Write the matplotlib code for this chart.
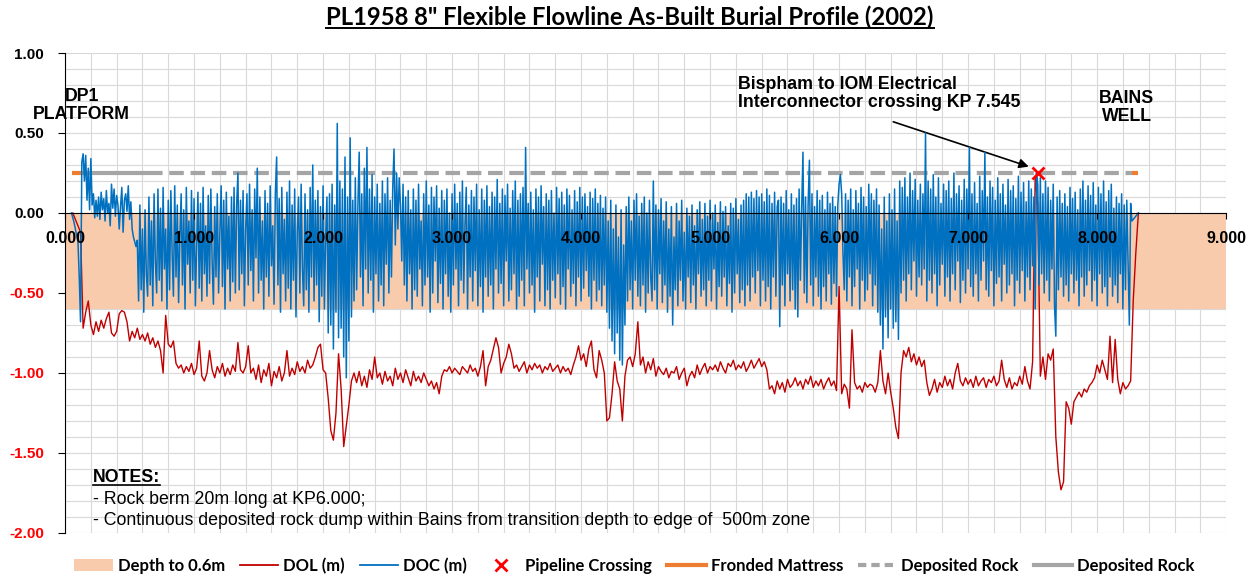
import numpy as np
import matplotlib.pyplot as plt
from matplotlib.lines import Line2D
from matplotlib.patches import Patch

plt.rcParams['font.family'] = ['Liberation Sans', 'DejaVu Sans']

# survey sampling along the route (km)
doc_start_kp, doc_step_kp = 0.05, 0.01
dol_start_kp, dol_step_kp = 0.06, 0.02

# DOC (m) - one row per 0.1 km
doc_m = [
    0.00, -0.03, -0.06, -0.10, -0.14, -0.18, -0.40, -0.68, 0.32, 0.37,
    0.20, 0.36, 0.08, 0.28, 0.02, 0.34, 0.05, 0.12, -0.03, 0.08,
    -0.02, 0.10, -0.04, 0.13, 0.02, 0.09, -0.05, 0.14, 0.00, 0.06,
    -0.08, 0.18, 0.03, 0.15, -0.02, 0.11, 0.05, -0.10, 0.04, 0.16,
    -0.12, 0.08, 0.12, 0.01, 0.17, -0.04, 0.07, -0.10, -0.15, -0.18,
    -0.21, -0.17, -0.55, 0.05, -0.48, -0.10, -0.62, 0.02, -0.38, -0.52,
    0.10, -0.45, -0.05, -0.58, 0.12, -0.30, -0.50, 0.15, -0.42, 0.03,
    -0.55, 0.16, -0.35, -0.10, -0.60, 0.08, -0.48, 0.14, -0.25, -0.52,
    0.17, -0.40, 0.05, -0.56, -0.15, 0.12, -0.45, 0.02, -0.60, 0.16,
    -0.32, -0.05, -0.50, 0.14, -0.42, 0.09, -0.58, -0.20, 0.13, -0.47,
    0.06, -0.55, 0.16, -0.38, -0.08, -0.52, 0.11, -0.44, 0.15, -0.30,
    -0.57, 0.04, -0.40, 0.12, -0.50, -0.12, 0.17, -0.46, 0.08, -0.60,
    0.13, -0.35, -0.02, -0.55, 0.10, -0.43, 0.16, -0.50, 0.05, 0.25,
    -0.48, 0.08, -0.38, 0.14, -0.58, -0.10, 0.12, -0.45, 0.18, -0.36,
    0.02, -0.55, 0.15, -0.28, 0.28, -0.50, 0.10, -0.42, -0.05, -0.60,
    0.14, -0.40, 0.06, -0.52, 0.17, -0.33, -0.08, -0.57, 0.12, 0.35,
    -0.45, 0.09, -0.62, 0.16, -0.38, -0.04, -0.55, 0.13, -0.47, 0.20,
    -0.60, 0.05, -0.42, 0.15, -0.65, -0.12, 0.10, -0.50, 0.18, -0.35,
    -0.58, 0.12, -0.48, 0.02, -0.62, 0.16, -0.40, 0.30, -0.55, 0.08,
    -0.45, 0.14, -0.68, 0.04, -0.52, 0.17, -0.60, -0.15, 0.10, -0.75,
    0.12, -0.70, 0.18, -0.85, 0.05, -0.62, 0.56, -0.78, 0.20, -0.72,
    0.15, -0.90, 0.35, -1.03, 0.10, -0.80, 0.47, -0.65, 0.08, -0.55,
    0.22, -0.48, 0.05, 0.38, -0.40, 0.12, -0.58, 0.28, -0.35, 0.41,
    -0.50, 0.15, -0.42, 0.24, -0.62, 0.10, -0.38, 0.18, -0.55, 0.06,
    -0.45, 0.20, -0.58, 0.12, -0.32, 0.22, -0.50, 0.08, -0.40, 0.16,
    0.40, -0.20, 0.25, -0.10, 0.22, 0.05, -0.30, 0.18, -0.45, 0.10,
    -0.55, 0.14, -0.38, 0.02, -0.60, 0.15, -0.48, 0.08, -0.52, 0.18,
    -0.35, -0.05, -0.58, 0.12, -0.45, 0.20, -0.40, 0.05, -0.62, 0.16,
    -0.50, 0.10, -0.30, 0.17, -0.56, 0.03, -0.44, 0.14, -0.60, 0.08,
    -0.38, 0.15, -0.52, 0.00, -0.62, 0.12, -0.45, 0.18, -0.35, 0.06,
    -0.58, 0.13, -0.42, 0.20, -0.50, -0.08, 0.16, -0.60, 0.05, -0.40,
    0.14, -0.55, 0.10, -0.36, 0.18, -0.58, 0.02, -0.46, 0.15, -0.62,
    0.08, -0.40, 0.17, -0.52, 0.04, -0.45, 0.13, -0.60, 0.10, -0.35,
    0.21, -0.50, 0.06, -0.44, 0.15, -0.58, 0.11, -0.30, 0.18, -0.55,
    0.03, -0.48, 0.14, -0.38, 0.20, -0.60, 0.08, -0.52, 0.12, -0.42,
    0.16, -0.58, 0.41, -0.35, 0.06, -0.50, 0.13, -0.45, 0.02, -0.62,
    0.15, -0.40, 0.10, -0.55, 0.17, -0.32, 0.04, -0.58, 0.12, -0.48,
    0.08, -0.60, 0.14, -0.42, 0.00, -0.53, 0.16, -0.38, 0.09, -0.57,
    0.13, -0.46, 0.05, -0.60, 0.15, -0.35, 0.11, -0.52, 0.02, -0.44,
    0.14, -0.58, 0.07, -0.40, 0.16, -0.55, 0.10, -0.47, 0.12, -0.36,
    0.04, -0.52, 0.13, -0.60, 0.09, -0.42, 0.15, -0.55, 0.06, -0.48,
    0.11, -0.58, 0.03, -0.45, 0.10, -0.62, -0.05, -0.72, 0.08, -0.80,
    -0.10, -0.88, 0.05, -0.75, -0.15, -0.92, 0.02, -0.95, -0.20, -0.70,
    0.04, -0.55, 0.10, -0.48, -0.05, -0.60, 0.08, -0.42, 0.12, -0.52,
    -0.02, -0.58, 0.06, -0.45, 0.10, -0.62, 0.00, -0.50, 0.08, -0.40,
    -0.55, 0.20, -0.48, 0.05, -0.60, 0.02, -0.38, 0.09, -0.56, -0.05,
    -0.45, 0.07, -0.62, -0.10, -0.52, 0.04, -0.70, -0.15, -0.48, 0.06,
    -0.58, -0.05, -0.42, 0.08, -0.55, -0.12, -0.60, 0.03, -0.40, -0.02,
    -0.56, 0.05, -0.45, -0.08, -0.60, 0.02, -0.38, 0.07, -0.52, -0.04,
    -0.48, 0.06, -0.58, -0.02, -0.42, 0.08, -0.55, 0.00, -0.35, 0.05,
    -0.60, -0.06, -0.46, 0.07, -0.52, 0.01, -0.40, 0.04, -0.58, -0.08,
    -0.44, 0.06, -0.62, 0.03, -0.50, 0.09, -0.38, -0.04, -0.56, 0.05,
    -0.48, 0.08, -0.58, 0.12, -0.45, 0.10, -0.55, 0.13, -0.40, 0.09,
    -0.50, 0.14, -0.36, 0.10, -0.58, 0.12, -0.42, 0.07, -0.55, 0.15,
    -0.46, 0.11, -0.60, 0.06, -0.40, 0.13, -0.52, 0.04, 0.08, -0.71,
    0.10, -0.45, 0.06, -0.58, 0.14, -0.38, 0.02, -0.55, 0.12, -0.48,
    0.05, -0.60, 0.09, -0.65, 0.15, -0.42, 0.03, 0.38, -0.50, 0.10,
    -0.56, 0.06, 0.33, -0.45, 0.12, -0.58, 0.04, -0.40, 0.14, -0.52,
    0.08, -0.60, 0.11, -0.46, 0.02, -0.55, 0.13, -0.38, 0.06, -0.57,
    0.10, -0.44, 0.04, -0.52, 0.05, 0.18, 0.24, 0.12, -0.25, -0.48,
    0.12, -0.55, 0.08, -0.40, 0.15, -0.58, 0.02, -0.46, 0.14, -0.35,
    0.06, -0.60, 0.16, -0.42, 0.10, -0.55, 0.04, -0.48, 0.18, -0.38,
    0.12, -0.58, 0.08, -0.45, 0.15, -0.62, 0.05, -0.70, -0.10, -0.85,
    0.10, -0.65, -0.05, -0.78, 0.12, -0.60, 0.02, -0.72, 0.15, -0.68,
    -0.05, -0.79, 0.20, -0.50, 0.16, -0.42, 0.22, -0.55, 0.10, -0.38,
    0.25, -0.48, 0.14, -0.30, 0.21, -0.52, 0.08, -0.40, 0.18, -0.45,
    0.12, -0.35, 0.50, -0.55, 0.20, -0.42, 0.15, -0.50, 0.24, -0.38,
    0.10, -0.58, 0.22, -0.45, 0.06, -0.32, 0.18, -0.52, 0.14, -0.40,
    0.20, -0.55, 0.09, -0.38, 0.25, -0.48, 0.12, -0.30, 0.17, -0.56,
    0.08, -0.42, 0.21, -0.50, 0.15, -0.35, 0.41, -0.46, 0.12, -0.52,
    0.19, -0.38, 0.06, -0.55, 0.23, -0.42, 0.14, -0.30, 0.38, -0.48,
    0.10, -0.52, 0.20, -0.36, 0.16, -0.58, 0.08, -0.44, 0.22, -0.40,
    0.12, -0.55, 0.18, -0.32, 0.05, -0.50, 0.21, -0.45, 0.14, -0.38,
    0.17, -0.58, 0.09, -0.42, 0.23, -0.50, 0.13, -0.36, 0.19, -0.55,
    0.07, -0.40, 0.20, -0.48, 0.15, -0.33, 0.10, -0.60, 0.25, 0.18,
    -0.45, 0.22, -0.38, 0.12, -0.50, 0.20, -0.42, 0.16, -0.55, 0.08,
    -0.35, 0.18, -0.58, -0.77, 0.10, -0.48, 0.14, -0.40, 0.06, -0.52,
    0.12, -0.45, 0.04, -0.55, 0.16, -0.38, 0.09, -0.50, 0.13, -0.42,
    0.02, -0.58, 0.15, -0.40, 0.20, -0.52, 0.08, -0.45, 0.17, -0.36,
    0.11, -0.55, 0.19, -0.42, 0.05, -0.58, 0.16, -0.38, 0.12, -0.50,
    0.20, -0.46, 0.07, -0.58, 0.14, -0.40, 0.18, -0.52, 0.03, -0.45,
    0.10, -0.56, 0.06, -0.38, 0.12, -0.60, 0.05, -0.48, 0.08, -0.30,
    -0.70, 0.06, -0.05, -0.04, -0.03, -0.02, -0.01, 0.00,
]

# DOL (m) - one row per 0.2 km
dol_m = [
    0.00, -0.04, -0.08, -0.12, -0.72, -0.62, -0.55, -0.70, -0.76, -0.68,
    -0.74, -0.67, -0.72, -0.66, -0.62, -0.75, -0.77, -0.74, -0.63, -0.61,
    -0.62, -0.68, -0.80, -0.74, -0.78, -0.72, -0.79, -0.76, -0.80, -0.75,
    -0.82, -0.78, -0.84, -0.80, -0.86, -1.00, -0.64, -0.82, -0.84, -0.80,
    -0.94, -0.97, -0.95, -1.00, -0.96, -0.99, -0.94, -1.01, -0.97, -0.80,
    -1.02, -1.05, -1.00, -0.86, -0.98, -1.03, -0.96, -1.00, -0.94, -1.02,
    -0.97, -1.01, -0.95, -0.99, -0.81, -0.98, -1.00, -0.96, -0.83, -1.00,
    -0.97, -1.04, -0.95, -1.06, -0.98, -1.02, -0.94, -1.08, -0.99, -1.03,
    -0.96, -1.05, -1.00, -0.86, -1.02, -0.97, -1.01, -0.93, -0.99, -0.96,
    -1.00, -0.92, -0.97, -0.95, -0.90, -0.84, -0.82, -0.98, -1.00, -1.16,
    -1.36, -1.42, -1.25, -0.88, -1.10, -1.46, -1.33, -1.20, -1.05, -1.00,
    -1.06, -0.99, -1.08, -1.02, -1.09, -0.98, -1.04, -0.90, -1.03, -1.00,
    -1.07, -0.99, -1.05, -1.02, -1.08, -0.97, -1.04, -1.00, -1.06, -0.98,
    -1.03, -1.08, -0.99, -1.05, -1.02, -1.06, -1.00, -1.04, -1.08, -1.05,
    -1.10, -1.06, -1.13, -1.02, -0.98, -0.99, -0.96, -1.00, -0.97, -0.99,
    -1.01, -0.96, -0.98, -1.00, -0.95, -0.99, -0.97, -1.02, -0.96, -0.86,
    -1.08, -0.96, -0.92, -0.85, -0.78, -0.84, -1.00, -0.94, -0.90, -0.82,
    -0.88, -0.97, -0.95, -0.99, -0.96, -0.93, -1.00, -0.95, -0.98, -0.94,
    -0.97, -0.95, -1.00, -0.96, -0.98, -0.94, -0.99, -0.97, -0.95, -1.00,
    -0.96, -0.99, -0.97, -1.01, -0.95, -0.90, -0.83, -0.92, -0.88, -0.96,
    -0.85, -0.80, -0.98, -1.03, -0.86, -0.92, -1.00, -1.30, -1.28, -1.13,
    -0.93, -1.05, -1.10, -1.30, -1.02, -0.92, -0.90, -0.96, -0.88, -0.68,
    -0.95, -0.90, -1.00, -0.93, -0.98, -0.91, -1.02, -0.96, -0.99, -1.01,
    -0.97, -1.03, -0.99, -1.00, -0.96, -1.04, -1.00, -0.97, -1.08, -1.02,
    -0.99, -1.03, -0.95, -1.01, -0.97, -0.94, -1.00, -0.96, -0.98, -0.95,
    -0.99, -0.93, -0.97, -1.00, -0.94, -0.96, -0.92, -0.98, -0.95, -0.97,
    -0.93, -0.99, -0.96, -0.92, -0.97, -0.94, -0.91, -0.96, -0.93, -0.98,
    -1.10, -1.08, -1.13, -1.05, -1.10, -1.06, -1.12, -1.04, -1.09, -1.07,
    -1.03, -1.08, -1.05, -1.10, -1.04, -1.07, -1.02, -1.09, -1.05, -1.08,
    -1.04, -1.10, -1.06, -1.03, -1.08, -1.05, -1.11, -0.46, -1.13, -1.07,
    -1.10, -1.22, -0.73, -1.06, -1.10, -1.08, -1.12, -1.06, -1.09, -1.07,
    -1.08, -1.12, -1.06, -0.86, -1.05, -1.13, -1.00, -1.12, -1.22, -1.34,
    -1.41, -1.00, -0.86, -0.90, -0.84, -0.93, -0.88, -0.95, -0.90, -0.96,
    -0.92, -1.06, -1.14, -1.10, -1.04, -1.12, -1.06, -1.09, -1.02, -1.08,
    -1.04, -1.10, -1.00, -0.94, -1.05, -1.08, -1.03, -1.07, -1.04, -1.09,
    -1.02, -1.08, -1.05, -1.03, -1.09, -1.04, -1.06, -1.02, -1.08, -1.05,
    -0.92, -1.04, -1.09, -1.03, -1.10, -1.06, -1.08, -1.02, -1.07, -0.96,
    -1.05, -1.10, -0.93, 0.23, 0.05, -1.02, -0.90, -1.04, -0.88, -0.92,
    -0.85, -1.40, -1.62, -1.73, -1.68, -1.18, -1.22, -1.32, -1.18, -1.15,
    -1.12, -1.15, -1.10, -1.12, -1.08, -1.06, -1.03, -0.95, -1.00, -0.92,
    -0.98, -1.04, -0.77, -1.06, -0.79, -1.04, -1.13, -1.06, -1.10, -1.08,
    -1.05, -0.55, -0.25, 0.00,
]

band_depth = -0.6
band_kp = [0, 9]
crossing_kp, crossing_level = 7.545, 0.25
rock_level = 0.25
mattress_kp = [(0.05, 0.13), (8.27, 8.32)]
rock_solid_kp = (0.13, 0.64)
rock_dashed_kp = (0.64, 8.27)
y_ticks = [1.0, 0.5, 0.0, -0.5, -1.0, -1.5, -2.0]
x_ticks = list(range(0, 10))

kp_doc = doc_start_kp + doc_step_kp * np.arange(len(doc_m))
kp_dol = dol_start_kp + dol_step_kp * np.arange(len(dol_m))

fig = plt.figure(figsize=(12.56, 5.78), dpi=100)
ax = fig.add_axes([0.0518, 0.0779, 0.9244, 0.8304])

# light grid drawn by hand so it stays under the shaded band
for gx in np.arange(0, 9.01, 0.2):
    ax.axvline(gx, color='#D9D9D9', lw=0.8, zorder=0.5)
for gy in np.arange(-2, 1.01, 0.1):
    ax.axhline(gy, color='#D9D9D9', lw=0.8, zorder=0.5)

ax.fill_between(band_kp, band_depth, 0, color='#F8CBAD', lw=0, zorder=1)
for a, b in mattress_kp:
    ax.plot([a, b], [rock_level, rock_level], color='#ED7D31', lw=3, solid_capstyle='butt', zorder=2.2)
ax.plot(rock_solid_kp, [rock_level, rock_level], color='#A5A5A5', lw=3, solid_capstyle='butt', zorder=2.2)
ax.plot(rock_dashed_kp, [rock_level, rock_level], color='#A5A5A5', lw=3, dashes=(3.5, 1.6), zorder=2.2)
ax.plot(kp_dol, dol_m, color='#C00000', lw=1.0, zorder=3)
ax.plot(kp_doc, doc_m, color='#0070C0', lw=1.1, zorder=4)
ax.plot(crossing_kp, crossing_level, ls='none', marker='x', color='#FF0000', ms=9, mew=2, zorder=6)

# axes
ax.set_xlim(0, 9)
ax.set_ylim(-2, 1)
ax.spines['bottom'].set_position(('data', 0))
ax.spines[['top', 'right']].set_visible(False)
ax.spines['bottom'].set_zorder(4.5)
ax.set_xticks(x_ticks)
ax.set_xticklabels([f'{v:.3f}' for v in x_ticks], fontweight='bold', fontsize=11.5)
ax.set_yticks(y_ticks)
ylabs = ax.set_yticklabels([f'{v:.2f}' for v in y_ticks], fontweight='bold', fontsize=11)
for lab, v in zip(ylabs, y_ticks):
    lab.set_color('#FF0000' if v < 0 else 'black')
ax.tick_params(axis='x', which='major', length=4, pad=9)
ax.tick_params(axis='y', which='major', length=5, pad=10)
ax.xaxis.set_zorder(5)

# labels on the chart
ax.text(0.13, 0.67, 'DP1\nPLATFORM', ha='center', va='center', fontsize=12.8,
        fontweight='bold', linespacing=1.1)
ax.text(8.23, 0.66, 'BAINS\nWELL', ha='center', va='center', fontsize=12.8,
        fontweight='bold', linespacing=1.1)
ax.text(5.217, 0.747, 'Bispham to IOM Electrical\nInterconnector crossing KP 7.545',
        ha='left', va='center', fontsize=12.8, fontweight='bold', linespacing=1.15)
ax.annotate('', xy=(7.47, 0.29), xytext=(6.42, 0.57),
            arrowprops=dict(arrowstyle='-|>', color='black', lw=1.2,
                            mutation_scale=14, shrinkA=0, shrinkB=0))

notes = ax.text(0.217, -1.656, 'NOTES:', ha='left', va='center', fontsize=12.8, fontweight='bold')
ax.text(0.217, -1.79, '- Rock berm 20m long at KP6.000;', ha='left', va='center', fontsize=12.8)
ax.text(0.217, -1.92, '- Continuous deposited rock dump within Bains from transition depth to edge of  500m zone',
        ha='left', va='center', fontsize=12.8)

title = fig.text(0.5016, 0.9706, 'PL1958 8" Flexible Flowline As-Built Burial Profile (2002)',
                 ha='center', va='center', fontsize=17.2, fontweight='bold', family='Lato')

# legend
handles = [Patch(facecolor='#F8CBAD', edgecolor='none'),
           Line2D([], [], color='#C00000', lw=1.3),
           Line2D([], [], color='#0070C0', lw=1.3),
           Line2D([], [], ls='none', marker='x', color='#FF0000', ms=8, mew=2),
           Line2D([], [], color='#ED7D31', lw=3),
           Line2D([], [], color='#A5A5A5', lw=3, dashes=(2.0, 1.2)),
           Line2D([], [], color='#A5A5A5', lw=3)]
labels = ['Depth to 0.6m', 'DOL (m)', 'DOC (m)', 'Pipeline Crossing',
          'Fronded Mattress', 'Deposited Rock', 'Deposited Rock']
fig.legend(handles, labels, loc='center', bbox_to_anchor=(0.505, 0.021), ncol=7,
           frameon=False, prop=dict(family='Lato', weight='bold', size=12),
           handlelength=2.3, columnspacing=0.9, handletextpad=0.3)


def underline(txt, lw=1.2):
    fig.canvas.draw()
    bb = txt.get_window_extent()
    W, H = fig.bbox.width, fig.bbox.height
    y = (bb.y0 + 1) / H
    fig.add_artist(Line2D([bb.x0 / W, bb.x1 / W], [y, y], transform=fig.transFigure,
                          color='black', lw=lw))


underline(title, 1.4)
underline(notes, 1.2)

fig.savefig('out.png', dpi=100)
